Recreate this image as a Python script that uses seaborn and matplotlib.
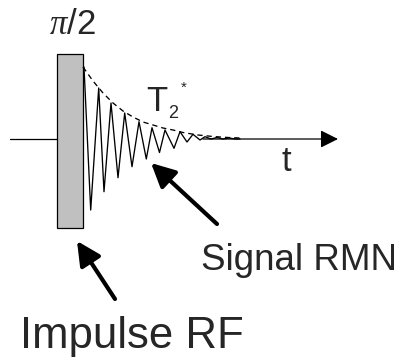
import matplotlib
matplotlib.use("Agg")
import matplotlib.pyplot as plt
import seaborn as sns
import pandas as pd
from matplotlib.patches import Rectangle

sns.set_theme(style="white")
plt.rcParams['font.family'] = ['Liberation Sans', 'DejaVu Sans']
plt.rcParams['mathtext.fontset'] = 'custom'
plt.rcParams['mathtext.rm'] = 'Liberation Sans'
plt.rcParams['mathtext.it'] = 'Liberation Serif:italic'

# Free induction decay (time after pulse, amplitude)
sig_t = [1, 7.7, 15.7, 21, 28, 35, 41.7, 49, 56, 63.3, 69, 76.5, 82, 91, 97,
         104, 110, 117, 122, 128, 134, 140, 146, 152, 157]
sig_a = [72, -71, 51, -52.7, 36, -38.7, 26, -27.7, 17.3, -20, 11.3, -13.5, 9,
         -9.3, 7.3, -3, 4.7, -1, 2.3, 0, 1.5, 0, 1, 0, 0]

# T2* envelope
env_t = [0, 10, 20, 30, 40, 50, 60, 70, 80, 90, 100, 115, 130, 145, 157]
env_a = [72, 58, 46, 36, 28, 22, 17, 14, 11, 9, 6.5, 4, 2.5, 1.5, 1]

# RF pulse (start, end time; bottom, top amplitude)
pulse_t = [-26, 0]
pulse_a = [-89, 85]

# baseline before pulse and time axis
pre_t = [-73, -26]
axis_t = [120, 255]

labels = {"pulse": r"$\pi/2$", "t2": "T", "t": "t",
          "signal": "Signal RMN", "rf": "Impulse RF"}

W, H = 407, 361
fig = plt.figure(figsize=(W / 100, H / 100), dpi=100)
ax = fig.add_axes([0, 0, 1, 1])
ax.set_xlim(-83, W - 83)
ax.set_ylim(139 - H, 139)
ax.axis('off')

# baseline before pulse
sns.lineplot(x=pre_t, y=[0, 0], ax=ax, color='black', lw=0.9)

# pulse rectangle
ax.add_patch(Rectangle((pulse_t[0], pulse_a[0]), pulse_t[1] - pulse_t[0],
                       pulse_a[1] - pulse_a[0], facecolor='#c0c0c0',
                       edgecolor='black', lw=0.9, zorder=3))

# signal
df_sig = pd.DataFrame({"t": sig_t, "a": sig_a})
sns.lineplot(data=df_sig, x="t", y="a", ax=ax, color='black', lw=0.95,
             sort=False, zorder=4)

# envelope
df_env = pd.DataFrame({"t": env_t, "a": env_a})
sns.lineplot(data=df_env, x="t", y="a", ax=ax, color='black', lw=0.95,
             linestyle=(0, (4, 3)), zorder=4)

# time axis with arrow
ax.annotate("", xy=(axis_t[1], 0), xytext=(axis_t[0], 0),
            arrowprops=dict(arrowstyle='-|>,head_length=0.9,head_width=0.45',
                            color='black', lw=0.9, shrinkA=0, shrinkB=0))

def P(px, py):
    return (px - 83, 139 - py)

# labels
ax.text(*P(72, 25), labels["pulse"], fontsize=25, ha='center', va='center')
ax.text(*P(157, 111), labels["t2"], fontsize=25, ha='center', va='baseline')
ax.text(*P(173, 118), "2", fontsize=13, ha='center', va='baseline')
ax.text(*P(184, 92), "*", fontsize=11, ha='center', va='baseline')
ax.text(*P(286, 171), labels["t"], fontsize=25, ha='center', va='baseline')
ax.text(*P(201, 270), labels["signal"], fontsize=26.5, ha='left', va='baseline')
ax.text(*P(20, 348), labels["rf"], fontsize=31.5, ha='left', va='baseline')

# pointer arrows
astyle = dict(arrowstyle='-|>,head_length=1.2,head_width=0.6', color='black',
              lw=3.0, shrinkA=0, shrinkB=0)
ax.annotate("", xy=P(151, 163), xytext=P(217, 224), arrowprops=astyle)
ax.annotate("", xy=P(77, 241), xytext=P(115, 299), arrowprops=astyle)

fig.savefig("out.png", dpi=100, facecolor='white')
